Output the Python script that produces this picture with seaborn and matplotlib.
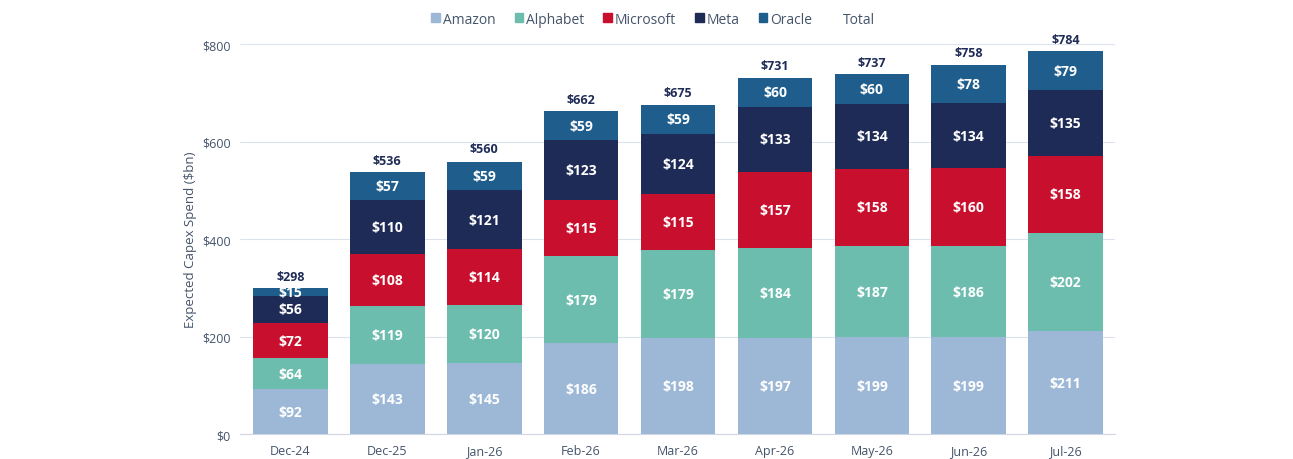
import seaborn as sns
import matplotlib.pyplot as plt
import matplotlib.patches as mpatches
import pandas as pd

months = ['Dec-24', 'Dec-25', 'Jan-26', 'Feb-26', 'Mar-26', 'Apr-26', 'May-26', 'Jun-26', 'Jul-26']
amazon = [92, 143, 145, 186, 198, 197, 199, 199, 211]
alphabet = [64, 119, 120, 179, 179, 184, 187, 186, 202]
microsoft = [72, 108, 114, 115, 115, 157, 158, 160, 158]
meta = [56, 110, 121, 123, 124, 133, 134, 134, 135]
oracle = [15, 57, 59, 59, 59, 60, 60, 78, 79]
totals = [298, 536, 560, 662, 675, 731, 737, 758, 784]

series = {'Amazon': amazon, 'Alphabet': alphabet, 'Microsoft': microsoft,
          'Meta': meta, 'Oracle': oracle}
colors = {'Amazon': '#9db8d6', 'Alphabet': '#6cbdae', 'Microsoft': '#c8102e',
          'Meta': '#1f2b57', 'Oracle': '#1f5e8c'}

sns.set_style('white')
plt.rcParams['font.family'] = ['Open Sans', 'DejaVu Sans']
text_col = '#44546a'

fig = plt.figure(figsize=(12.93, 4.6), dpi=100)
ax = fig.add_axes([0.186, 0.054, 0.676, 0.848])

df = pd.DataFrame(series, index=months)
cum = df.cumsum(axis=1)
names = list(series.keys())

# draw cumulative heights from the top down so each layer sits on the one below
for name in reversed(names):
    sns.barplot(x=months, y=cum[name].values, color=colors[name], width=0.77,
                saturation=1, linewidth=0, ax=ax, zorder=3)

for i, m in enumerate(months):
    base = 0
    for name in names:
        v = df.loc[m, name]
        ax.text(i, base + v / 2, f'${v}', ha='center', va='center', color='white',
                fontsize=10, fontweight='bold', zorder=4)
        base += v
    ax.text(i, totals[i] + 12, f'${totals[i]}', ha='center', va='bottom',
            color='#1f2b57', fontsize=9, fontweight='bold', zorder=4)

ax.set_ylim(0, 800)
ax.set_xlim(-0.515, 8.505)
ax.set_yticks(range(0, 801, 200))
ax.set_yticklabels([f'${v}' for v in range(0, 801, 200)])
ax.yaxis.grid(True, color='#dde3ee', linewidth=0.8, zorder=0)
ax.set_axisbelow(True)
for s in ['top', 'right', 'left']:
    ax.spines[s].set_visible(False)
ax.spines['bottom'].set_color('#d0d6e2')
ax.tick_params(axis='both', length=0, colors=text_col, labelsize=9, pad=7)
ax.set_ylabel('Expected Capex Spend ($bn)', color=text_col, fontsize=9.5)
ax.set_xlabel('')

handles = [mpatches.Patch(color=colors[n], label=n) for n in names]
handles.append(mpatches.Patch(color='none', label='Total'))
leg = fig.legend(handles=handles, loc='upper center', bbox_to_anchor=(0.505, 1.0),
                 ncol=6, frameon=False, fontsize=10, handlelength=0.6,
                 handleheight=0.6, handletextpad=0.2, columnspacing=1.4)
for t in leg.get_texts():
    t.set_color(text_col)

fig.savefig('out.png', dpi=100)
